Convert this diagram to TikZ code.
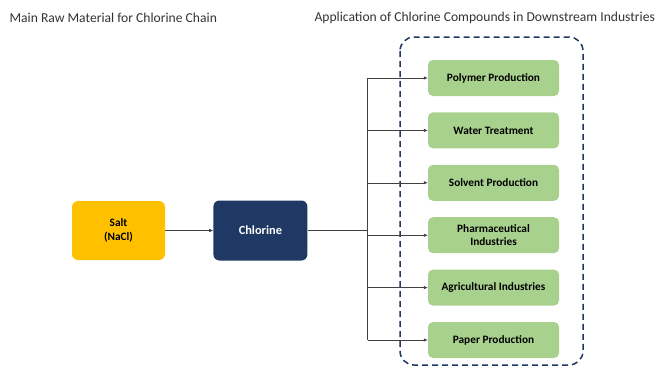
\documentclass[tikz,border=0pt]{standalone}
\usepackage{fontspec}
\setmainfont{Carlito}
\usetikzlibrary{positioning}
\usetikzlibrary{arrows.meta}

\definecolor{saltcol}{HTML}{FFC000}
\definecolor{navycol}{HTML}{203864}
\definecolor{usecol}{HTML}{A9D18E}
\definecolor{linecol}{HTML}{404040}

\begin{document}
\begin{tikzpicture}[x=1pt,y=1pt,
				rawmode/.style={rectangle,rounded corners=6pt,minimum width=93pt,minimum height=59pt,fill=saltcol,align=center,font=\bfseries\fontsize{11.3}{13.5}\selectfont},
				chemmode/.style={rectangle,rounded corners=6pt,minimum width=94pt,minimum height=60pt,fill=navycol,text=white,font=\bfseries\fontsize{12.4}{14}\selectfont},
				usemode/.style={rectangle,rounded corners=5pt,minimum width=131pt,minimum height=36pt,fill=usecol,align=center,font=\bfseries\fontsize{11.3}{12.5}\selectfont},
				headmode/.style={anchor=west,font=\fontsize{13.6}{15}\selectfont,text=black!80},
				link/.style={draw=linecol,line width=0.6pt},
				arr/.style={link,-{Latex[length=4pt,width=3.5pt]}}]

				\useasboundingbox (0,0) rectangle (658,368);

				\node (head1) [headmode] at (6,350) {Main Raw Material for Chlorine Chain};
				\node (head2) [headmode] at (311,350) {Application of Chlorine Compounds in Downstream Industries};

				\node (salt) [rawmode] at (118.5,137.5) {Salt\\(NaCl)};
				\node (chlor) [chemmode,right=48pt of salt] {Chlorine};

				\node (poly)  [usemode] at (493.5,290) {Polymer Production};
				\node (water) [usemode,below=16pt of poly]  {Water Treatment};
				\node (solv)  [usemode,below=16pt of water] {Solvent Production};
				\node (pharm) [usemode,below=16pt of solv]  {Pharmaceutical\\Industries};
				\node (agri)  [usemode,below=16pt of pharm] {Agricultural Industries};
				\node (paper) [usemode,below=16pt of agri]  {Paper Production};

				% dashed frame round the applications
				\draw [navycol,line width=1.5pt,dash pattern=on 6pt off 4pt,rounded corners=14pt] (400,331) rectangle (583,3);

				\coordinate [right=60pt of chlor.east] (trunk);
				\draw [arr] (salt.east)--(chlor.west);
				\draw [link] (chlor.east)--(trunk);
				\draw [link] (trunk |- poly.west)--(trunk |- paper.west);
				\foreach \n in {poly,water,solv,pharm,agri,paper}
					\draw [arr] (trunk |- \n.west)--(\n.west);
			\end{tikzpicture}
\end{document}
